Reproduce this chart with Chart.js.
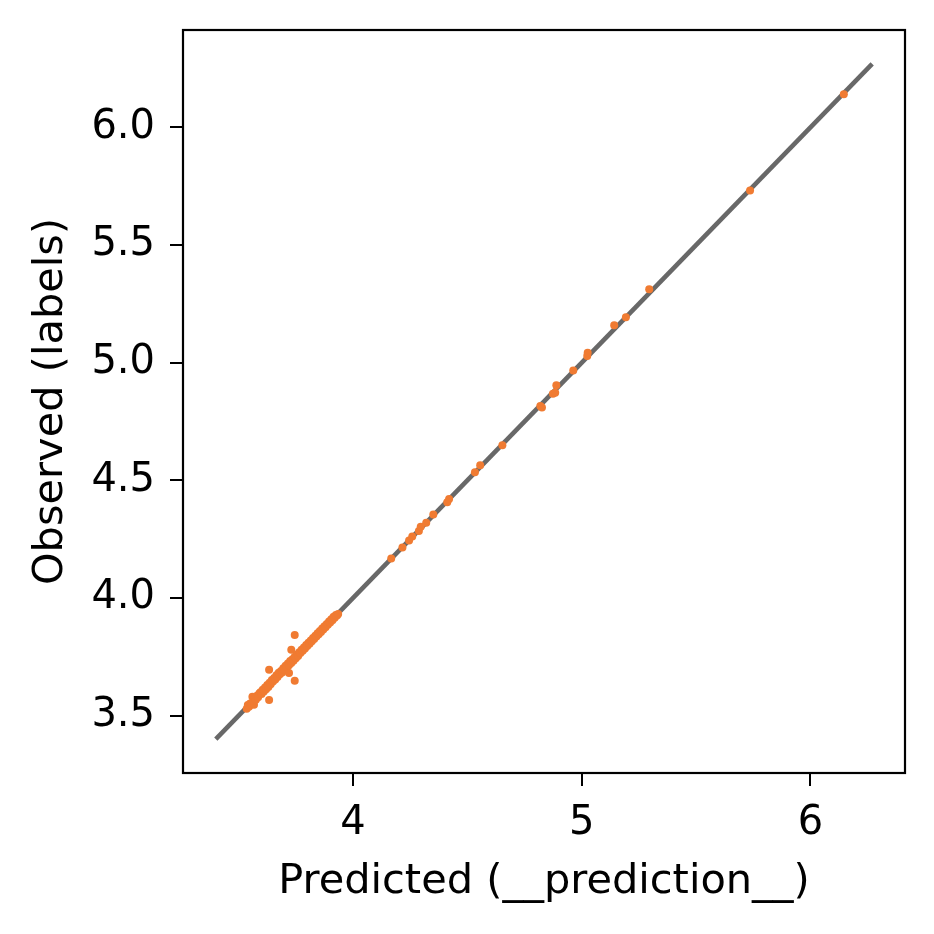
<!DOCTYPE html>
<html>
<head>
<meta charset="utf-8">
<script src="https://cdn.jsdelivr.net/npm/chart.js@4/dist/chart.umd.min.js"></script>
<style>
  html, body { margin: 0; padding: 0; background: #fff; }
  #wrap { width: 934px; height: 934px; }
</style>
</head>
<body>
<div id="wrap"><canvas id="c" width="934" height="934"></canvas></div>
<script>
// ---- data ----
const predicted = [
  3.535,3.540,3.545,3.550,3.555,3.560,3.567,3.565,3.570,3.575,3.580,3.585,3.590,3.595,3.600,
  3.605,3.610,3.615,3.620,3.625,3.630,3.633,3.633,3.635,3.640,3.645,3.650,3.655,3.660,3.665,
  3.670,3.675,3.680,3.685,3.690,3.695,3.700,3.705,3.710,3.715,3.720,3.720,3.725,3.730,3.730,
  3.735,3.740,3.745,3.745,3.745,3.750,3.755,3.760,3.765,3.770,3.775,3.780,3.785,3.790,3.795,
  3.800,3.805,3.810,3.815,3.820,3.825,3.830,3.835,3.840,3.845,3.850,3.855,3.860,3.865,3.870,
  3.875,3.880,3.885,3.890,3.895,3.900,3.905,3.910,3.915,3.920,3.925,3.930,3.935,
  4.167,4.216,4.245,4.259,4.288,4.296,4.320,4.351,4.412,4.420,4.533,4.556,4.653,
  4.819,4.826,4.874,4.884,4.889,4.963,5.024,5.026,5.142,5.193,5.295,5.736,6.146
];
const observed = [
  3.530,3.545,3.538,3.552,3.548,3.581,3.546,3.562,3.575,3.568,3.585,3.578,3.594,3.600,3.592,
  3.610,3.603,3.620,3.612,3.630,3.622,3.695,3.567,3.640,3.634,3.652,3.645,3.660,3.654,3.672,
  3.664,3.682,3.676,3.690,3.684,3.702,3.694,3.712,3.704,3.722,3.681,3.714,3.732,3.780,3.724,
  3.740,3.733,3.843,3.649,3.750,3.744,3.760,3.754,3.770,3.766,3.780,3.776,3.790,3.786,3.800,
  3.796,3.810,3.806,3.820,3.816,3.830,3.826,3.840,3.836,3.850,3.846,3.860,3.856,3.870,3.866,
  3.880,3.876,3.890,3.886,3.900,3.896,3.910,3.906,3.920,3.916,3.928,3.926,3.932,
  4.168,4.215,4.244,4.261,4.285,4.303,4.320,4.355,4.407,4.421,4.534,4.564,4.649,
  4.816,4.810,4.868,4.872,4.904,4.967,5.028,5.042,5.159,5.193,5.312,5.732,6.141
];
const identityLine = [3.4, 6.27];
const xTicks = [4, 5, 6];
const yTicks = [3.5, 4.0, 4.5, 5.0, 5.5, 6.0];
const axisMin = 3.2565, axisMax = 6.4135;
const xTitle = 'Predicted (__prediction__)';
const yTitle = 'Observed (labels)';

// ---- chart ----
const FONT = 'DejaVu Sans';
const points = predicted.map((x, i) => ({ x: x, y: observed[i] }));
const linePts = identityLine.map(v => ({ x: v, y: v }));

const framePlugin = {
  id: 'frame',
  afterDatasetsDraw(chart) {
    const a = chart.chartArea, ctx = chart.ctx;
    ctx.save();
    ctx.strokeStyle = '#000';
    ctx.lineWidth = 2.2;
    ctx.strokeRect(a.left, a.top, a.right - a.left, a.bottom - a.top);
    ctx.restore();
  }
};

new Chart(document.getElementById('c'), {
  type: 'scatter',
  data: {
    datasets: [
      {
        type: 'line',
        data: linePts,
        borderColor: '#686868',
        borderWidth: 4.6,
        pointRadius: 0,
        fill: false,
        order: 2
      },
      {
        type: 'scatter',
        data: points,
        backgroundColor: '#f07b32',
        borderWidth: 0,
        pointRadius: 4,
        order: 1
      }
    ]
  },
  options: {
    responsive: false,
    animation: false,
    devicePixelRatio: 1,
    layout: { padding: { left: 0, right: 29, top: 30, bottom: 0 } },
    plugins: { legend: { display: false }, tooltip: { enabled: false } },
    scales: {
      x: {
        type: 'linear',
        min: axisMin, max: axisMax,
        afterBuildTicks: s => { s.ticks = xTicks.map(v => ({ value: v })); },
        afterFit: s => { s.height = 161; s.paddingLeft = 0; s.paddingRight = 0; },
        border: { display: false },
        grid: { drawOnChartArea: false, drawTicks: true, tickLength: 13, color: '#000', lineWidth: 2 },
        ticks: { color: '#000', font: { family: FONT, size: 40 }, padding: 14, maxRotation: 0,
                 callback: v => String(v) },
        title: { display: true, text: xTitle, color: '#000', font: { family: FONT, size: 41.5 },
                 padding: { top: 0, bottom: 27 } }
      },
      y: {
        type: 'linear',
        min: axisMin, max: axisMax,
        afterBuildTicks: s => { s.ticks = yTicks.map(v => ({ value: v })); },
        afterFit: s => { s.width = 183; s.paddingTop = 0; s.paddingBottom = 0; },
        border: { display: false },
        grid: { drawOnChartArea: false, drawTicks: true, tickLength: 13, color: '#000', lineWidth: 2 },
        ticks: { color: '#000', font: { family: FONT, size: 40 }, padding: 15,
                 callback: v => Number(v).toFixed(1) },
        title: { display: true, text: yTitle, color: '#000', font: { family: FONT, size: 41.5 },
                 padding: { top: 26, bottom: 0 } }
      }
    }
  },
  plugins: [framePlugin]
});
</script>
</body>
</html>
